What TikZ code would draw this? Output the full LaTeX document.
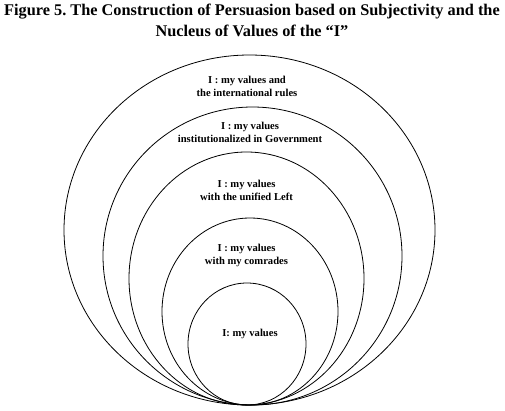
\documentclass[tikz,border=0pt]{standalone}
\usepackage{fontspec}
\setmainfont{Liberation Serif}
\begin{document}
\frenchspacing
\begin{tikzpicture}[x=1pt,y=-1pt,
  ring/.style={draw=black,line width=0.8pt},
  lbl/.style={font=\fontsize{10.6}{13}\selectfont\bfseries,align=center,inner sep=0pt},
  ttl/.style={font=\fontsize{16.3}{21}\selectfont\bfseries,align=center,inner sep=0pt}]
\useasboundingbox[fill=white] (0,0) rectangle (505,410);
\node[ttl] (title) at (252,20) {Figure 5. The Construction of Persuasion based on Subjectivity and the\\Nucleus of Values of the “I”};
\draw[ring] (249.5,230) ellipse [x radius=185.5pt,y radius=175pt];
\draw[ring] (252.5,256) ellipse [x radius=149.5pt,y radius=149pt];
\draw[ring] (246.5,278.5) ellipse [x radius=117.5pt,y radius=126.5pt];
\draw[ring] (250,311.5) ellipse [x radius=88pt,y radius=93.5pt];
\draw[ring] (247,344) ellipse [x radius=59pt,y radius=61pt];
\node[lbl] (l1) at (247,86) {I : my values and\\the international rules};
\node[lbl] (l2) at (250,132) {I : my values\\institutionalized in Government};
\node[lbl] (l3) at (246.5,190.5) {I : my values\\with the unified Left};
\node[lbl] (l4) at (246.5,255.5) {I : my values\\with my comrades};
\node[lbl] (l5) at (250,333.5) {I: my values};
\end{tikzpicture}
\end{document}
